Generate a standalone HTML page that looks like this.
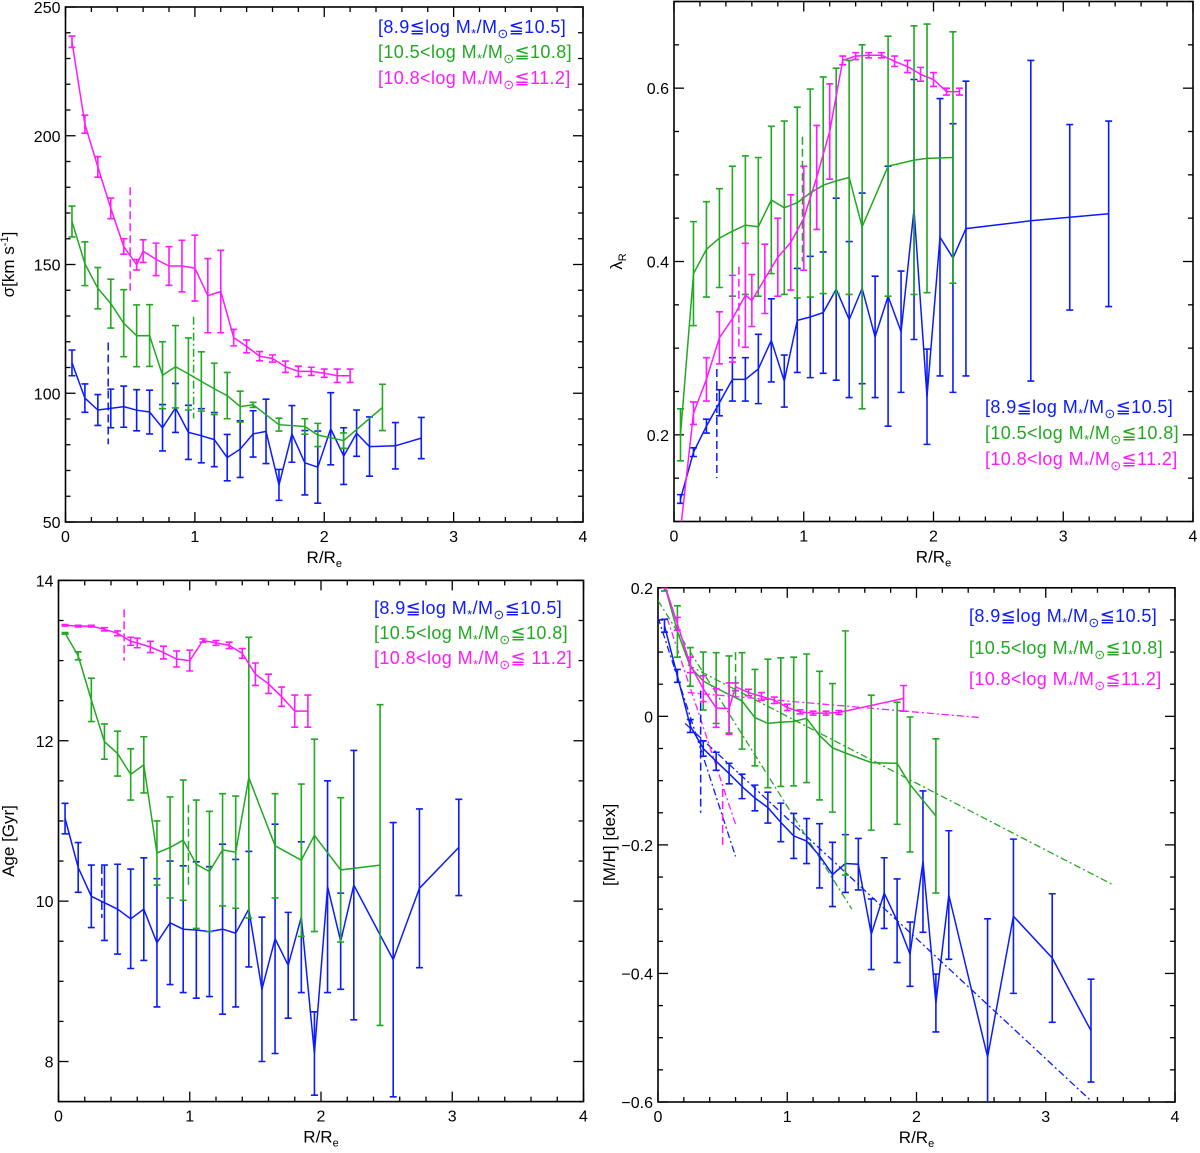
<!DOCTYPE html>
<html><head><meta charset="utf-8"><title>Radial profiles</title>
<style>
html,body{margin:0;padding:0;background:#fff;}
svg{display:block;}
text{font-family:"Liberation Sans","DejaVu Sans",sans-serif;}
</style></head>
<body>
<svg id="chart" width="1200" height="1153" viewBox="0 0 1200 1153" xmlns="http://www.w3.org/2000/svg"></svg>
<script>
// ===== Panel 1: sigma =====
const p1BlueR=[0.05,0.15,0.25,0.35,0.45,0.55,0.65,0.75,0.85,0.95,1.05,1.15,1.25,1.35,1.45,1.55,1.65,1.75,1.85,1.95,2.05,2.15,2.25,2.35,2.55,2.75];
const p1BlueV=[111.8,98.1,93.5,94.1,94.8,93.4,92.7,86.6,94.3,84.8,83.5,82,75,78.3,84.2,85.2,64.4,84.2,73,71.3,86.2,75.6,84.5,79.3,79.6,82.6];
const p1BlueE=[5,5.5,6,7.5,8,8,8.5,9,9.5,10.5,10.5,10.5,9,11,9,12.5,6,11,12.5,14,14,11,9,11.5,9,8];
const p1GreenR=[0.05,0.15,0.25,0.35,0.45,0.55,0.65,0.75,0.85,0.95,1.05,1.15,1.25,1.35,1.45,1.65,1.85,1.95,2.15,2.45];
const p1GreenV=[166.7,150.3,140.8,134.8,127.2,122.3,122.4,107,110.3,107.5,104.6,101.7,99.1,94.8,95.5,87.8,87.1,83.8,81.6,94.5];
const p1GreenE=[6,8.5,8,9.5,13,12,12,13,16,14,11.5,10,9,6,1,2.5,3,4.5,3,9];
const p1MagR=[0.05,0.15,0.25,0.35,0.45,0.55,0.6,0.7,0.8,0.9,1.0,1.1,1.2,1.3,1.4,1.5,1.6,1.7,1.8,1.9,2.0,2.1,2.2];
const p1MagV=[236.5,204.5,187.9,171.8,157.0,149.9,155.2,152.0,149.4,149.4,148.6,137.9,139.5,121.6,118.2,114.4,113.5,110.3,108.5,108.5,107.8,106.8,106.8];
const p1MagE=[2.2,3.5,4,4,3,2,4.4,6.3,7.5,10,12.8,14.4,16,3.2,2.5,1.8,1.4,2.2,2,1.6,1.6,2.6,2.6];
const p1Marks=[[0.33,119.7,80.2],[0.5,180,139.8],[0.99,129.7,90.2]];

// ===== Panel 2: lambda_R =====
const p2BlueR=[0.05,0.15,0.25,0.35,0.45,0.55,0.65,0.75,0.85,0.95,1.05,1.15,1.25,1.35,1.45,1.55,1.65,1.75,1.85,1.95,2.05,2.15,2.25,2.75,3.05,3.35];
const p2BlueV=[0.126,0.18,0.21,0.237,0.264,0.264,0.276,0.309,0.262,0.332,0.336,0.341,0.368,0.333,0.369,0.313,0.36,0.319,0.46,0.244,0.428,0.404,0.438,0.447,0.451,0.455];
const p2BlueE=[0.005,0.005,0.008,0.015,0.025,0.025,0.04,0.048,0.03,0.06,0.07,0.07,0.105,0.09,0.11,0.07,0.15,0.07,0.15,0.055,0.16,0.155,0.17,0.185,0.107,0.107];
const p2GreenR=[0.05,0.15,0.25,0.35,0.45,0.55,0.65,0.75,0.85,0.95,1.05,1.15,1.25,1.35,1.45,1.65,1.85,1.95,2.15];
const p2GreenV=[0.2,0.386,0.414,0.427,0.435,0.442,0.44,0.471,0.462,0.468,0.479,0.488,0.493,0.497,0.44,0.51,0.517,0.519,0.52];
const p2GreenE=[0.03,0.06,0.055,0.057,0.075,0.08,0.08,0.085,0.1,0.11,0.12,0.125,0.13,0.135,0.21,0.15,0.155,0.155,0.145];
const p2MagR=[0.05,0.15,0.25,0.35,0.45,0.55,0.6,0.7,0.8,0.9,1.0,1.1,1.2,1.3,1.4,1.5,1.6,1.7,1.8,1.9,2.0,2.1,2.2];
const p2MagV=[0.09,0.225,0.264,0.312,0.334,0.361,0.355,0.38,0.405,0.422,0.45,0.497,0.55,0.632,0.637,0.638,0.638,0.631,0.625,0.616,0.61,0.596,0.596];
const p2MagE=[0.005,0.013,0.025,0.03,0.05,0.06,0.03,0.04,0.045,0.055,0.06,0.06,0.055,0.005,0.004,0.003,0.003,0.006,0.007,0.008,0.008,0.004,0.004];
const p2Marks=[[0.33,0.276,0.15],[0.5,0.394,0.3],[0.99,0.544,0.4]];

// ===== Panel 3: Age =====
const p3BlueR=[0.05,0.15,0.25,0.35,0.45,0.55,0.65,0.75,0.85,0.95,1.05,1.15,1.25,1.35,1.45,1.55,1.65,1.75,1.85,1.95,2.05,2.15,2.25,2.55,2.75,3.05];
const p3BlueV=[11.03,10.42,10.06,9.98,9.9,9.78,9.9,9.48,9.73,9.65,9.64,9.62,9.65,9.6,9.9,8.9,9.53,9.2,9.8,8.1,10.18,9.5,10.2,9.27,10.16,10.67];
const p3BlueE=[0.19,0.31,0.39,0.47,0.56,0.62,0.64,0.8,0.77,0.79,0.85,0.81,1.06,0.92,0.72,0.9,1.43,0.66,0.94,0.52,1.32,0.6,1.68,1.71,0.99,0.6];
const p3GreenR=[0.05,0.15,0.25,0.35,0.45,0.55,0.65,0.75,0.85,0.95,1.05,1.15,1.25,1.35,1.45,1.65,1.85,1.95,2.15,2.45];
const p3GreenV=[13.34,13.06,12.51,11.99,11.84,11.58,11.7,10.6,10.67,10.76,10.46,10.37,10.64,10.61,11.54,10.69,10.51,10.82,10.39,10.45];
const p3GreenE=[0.01,0.05,0.27,0.22,0.28,0.32,0.35,0.4,0.63,0.75,0.8,0.75,0.7,0.7,1.75,0.65,0.95,1.2,0.9,2.0];
const p3MagR=[0.05,0.15,0.25,0.35,0.45,0.55,0.6,0.7,0.8,0.9,1.0,1.1,1.2,1.3,1.4,1.5,1.6,1.7,1.8,1.9];
const p3MagV=[13.44,13.43,13.43,13.39,13.34,13.24,13.22,13.17,13.1,13.02,13.0,13.25,13.22,13.19,13.09,12.83,12.71,12.55,12.37,12.37];
const p3MagE=[0.01,0.01,0.01,0.02,0.03,0.05,0.06,0.07,0.08,0.1,0.13,0.02,0.03,0.04,0.06,0.14,0.12,0.12,0.2,0.2];
const p3Marks=[[0.33,10.44,9.79],[0.5,13.64,13.0],[0.99,11.2,10.19]];

// ===== Panel 4: [M/H] =====
const p4BlueR=[0.05,0.15,0.25,0.35,0.45,0.55,0.65,0.75,0.85,0.95,1.05,1.15,1.25,1.35,1.45,1.55,1.65,1.75,1.85,1.95,2.05,2.15,2.25,2.55,2.75,3.05,3.35];
const p4BlueV=[0.141,0.063,-0.015,-0.05,-0.07,-0.089,-0.109,-0.127,-0.142,-0.165,-0.186,-0.194,-0.217,-0.246,-0.229,-0.23,-0.339,-0.275,-0.318,-0.37,-0.226,-0.446,-0.278,-0.53,-0.311,-0.376,-0.489];
const p4BlueE=[0.01,0.01,0.01,0.012,0.014,0.016,0.019,0.02,0.024,0.03,0.035,0.035,0.05,0.05,0.045,0.04,0.055,0.055,0.065,0.05,0.11,0.045,0.1,0.215,0.12,0.1,0.08];
const p4GreenR=[0.05,0.15,0.25,0.35,0.45,0.55,0.65,0.75,0.85,0.95,1.05,1.15,1.25,1.35,1.45,1.65,1.85,1.95,2.15];
const p4GreenV=[0.205,0.132,0.077,0.055,0.044,0.034,0.024,-0.002,-0.011,-0.009,-0.008,-0.003,-0.03,-0.049,-0.057,-0.072,-0.073,-0.106,-0.155];
const p4GreenE=[0.01,0.04,0.03,0.045,0.055,0.06,0.075,0.075,0.1,0.1,0.1,0.1,0.1,0.1,0.19,0.105,0.095,0.105,0.12];
const p4MagR=[0.05,0.15,0.25,0.35,0.45,0.55,0.6,0.7,0.8,0.9,1.0,1.1,1.2,1.3,1.4,1.9];
const p4MagV=[0.205,0.144,0.08,0.043,0.013,0.012,0.046,0.037,0.031,0.025,0.014,0.007,0.005,0.005,0.006,0.028];
const p4MagE=[0.005,0.01,0.012,0.02,0.03,0.04,0.006,0.005,0.006,0.005,0.005,0.003,0.003,0.003,0.003,0.02];
const p4Marks=[[0.33,0.04,-0.15],[0.5,-0.113,-0.2],[0.6,0.1,0.028]];
// fit lines: [r1, v1, r2, v2]
const p4BlueFits=[[0.0,0.154,0.6,-0.218],[0.21,-0.011,3.36,-0.6]];
const p4GreenFits=[[0.0,0.18,1.5,-0.3],[0.23,0.08,3.51,-0.261]];
const p4MagFits=[[0.07,0.153,0.6,-0.168],[0.23,0.037,2.5,-0.002]];

const BLUE="#0a1cff", GREEN="#22a822", MAG="#ff1aff";
const NS="http://www.w3.org/2000/svg";
const svg=document.getElementById('chart');
function el(tag,attrs,parent){const e=document.createElementNS(NS,tag);for(const k in attrs)e.setAttribute(k,attrs[k]);(parent||svg).appendChild(e);return e;}

let clipId=0;
function makePanel(key,L,R,T,B,ymin,ymax,yMajor,yMinor,yFmt,ylabelX,ylabelParts){
  const g=el('g',{});
  
  
  const xs=v=>L+(v/4)*(R-L);
  const ys=v=>B-(v-ymin)/(ymax-ymin)*(B-T);
  clipId++;
  const cp=el('clipPath',{id:'clip'+clipId},g);
  el('rect',{x:L,y:T,width:R-L,height:B-T},cp);
  const frame=el('rect',{x:L,y:T,width:R-L,height:B-T,fill:'none',stroke:'#000','stroke-width':1.6},g);
  
  
  for(let i=0;i<=20;i++){
    const v=i*0.2, x=xs(v), major=(i%5===0), len=major?10:5;
    el('line',{x1:x,y1:B,x2:x,y2:B-len,stroke:'#000','stroke-width':1.3},g);
    el('line',{x1:x,y1:T,x2:x,y2:T+len,stroke:'#000','stroke-width':1.3},g);
    if(major){
      const t=el('text',{x:x,y:B+20,'font-size':16,'text-anchor':'middle',fill:'#000'},g);
      t.textContent=String(i/5);
      
      
    }
  }
  const n=Math.round((ymax-ymin)/yMinor);
  for(let i=0;i<=n;i++){
    const v=ymin+i*yMinor, y=ys(v);
    const r=Math.abs(v/yMajor-Math.round(v/yMajor));
    const major=r<1e-6, len=major?10:5;
    el('line',{x1:L,y1:y,x2:L+len,y2:y,stroke:'#000','stroke-width':1.3},g);
    el('line',{x1:R,y1:y,x2:R-len,y2:y,stroke:'#000','stroke-width':1.3},g);
    if(major){
      const t=el('text',{x:L-5,y:y+6,'font-size':16,'text-anchor':'end',fill:'#000'},g);
      t.textContent=yFmt(v);
      
      
    }
  }
  const xt=el('text',{x:(L+R)/2,y:B+41,'font-size':17,'text-anchor':'middle',fill:'#000'},g);
  
  
  xt.appendChild(document.createTextNode('R/R'));
  const sb=el('tspan',{'font-size':11,dy:4},xt); sb.textContent='e';
  const cy=(T+B)/2;
  const yt=el('text',{x:ylabelX,y:cy,'font-size':17,'text-anchor':'middle',fill:'#000',transform:`rotate(-90 ${ylabelX} ${cy})`},g);
  
  
  ylabelParts.forEach(p=>{const s=el('tspan',p.a||{},yt);s.textContent=p.t;});
  const plot=el('g',{'clip-path':`url(#clip${clipId})`},g);
  return {g,plot,xs,ys};
}

function series(P,key,Rs,Vs,Es,color){
  const g=el('g',{},P.plot);
  
  
  const pts=Rs.map((r,i)=>P.xs(r).toFixed(1)+','+P.ys(Vs[i]).toFixed(1)).join(' ');
  const pl=el('polyline',{points:pts,fill:'none',stroke:color,'stroke-width':1.5},g);
  
  
  Rs.forEach((r,i)=>{
    const x=P.xs(r), y1=P.ys(Vs[i]+Es[i]), y2=P.ys(Vs[i]-Es[i]);
    const eb=el('path',{d:`M${x},${y1}V${y2}M${x-3.5},${y1}H${x+3.5}M${x-3.5},${y2}H${x+3.5}`,stroke:color,'stroke-width':1.6,fill:'none'},g);
    
    
  });
}
function marks(P,key,M,colors,dashes){
  M.forEach((m,i)=>{
    const l=el('line',{x1:P.xs(m[0]),x2:P.xs(m[0]),y1:P.ys(m[1]),y2:P.ys(m[2]),stroke:colors[i],'stroke-width':1.5,'stroke-dasharray':dashes[i]},P.plot);
    
    
  });
}
function fits(P,key,F,color){
  F.forEach(f=>{
    const l=el('line',{x1:P.xs(f[0]),y1:P.ys(f[1]),x2:P.xs(f[2]),y2:P.ys(f[3]),stroke:color,'stroke-width':1.3,'stroke-dasharray':'7 3 2 3'},P.plot);
    
    
  });
}
function legend(key,x,ys,texts){
  const cols=[BLUE,GREEN,MAG];
  const g=el('g',{});
  
  
  texts.forEach((tx,i)=>{
    const t=el('text',{x:x,y:ys[i],fill:cols[i],style:'font-size:18px;letter-spacing:0.4px;font-family:"Liberation Sans",sans-serif'},g);
    
    
    tx.forEach(p=>{const s=el('tspan',p.a||{},t);s.textContent=p.t;});
  });
}
function legText(a,op1,op2,c){
  return [{t:'['+a+op1+'log M'},{t:'*',a:{dy:5,style:'font-size:13px'}},{t:'/M',a:{dy:-5}},{t:'⊙',a:{dy:5,style:'font-size:13px'}},{t:op2+c+']',a:{dy:-5}}];
}
const LEG=[legText('8.9','≦','≦','10.5'),legText('10.5','<','≦','10.8'),legText('10.8','<','≦','11.2')];
const LEG3=[legText('8.9','≦','≦','10.5'),legText('10.5','<','≦','10.8'),legText('10.8','<','≦ ','11.2')];

const P1=makePanel('sigma',65.5,583,7,522,50,250,50,10,v=>String(Math.round(v)),14,
  [{t:'σ'},{t:'[km s'},{t:'-1',a:{dy:-6,'font-size':11}},{t:']',a:{dy:6}}]);
series(P1,'sigma-blue-series',p1BlueR,p1BlueV,p1BlueE,BLUE);
series(P1,'sigma-green-series',p1GreenR,p1GreenV,p1GreenE,GREEN);
series(P1,'sigma-magenta-series',p1MagR,p1MagV,p1MagE,MAG);
marks(P1,'sigma',p1Marks,[BLUE,MAG,GREEN],['8 4','8 4','8 3 2 3']);
legend('sigma',378,[33,58,84],LEG);

const P2=makePanel('lambda',674,1193,1.5,521.5,0.1,0.7,0.2,0.05,v=>v.toFixed(1),622,
  [{t:'λ'},{t:'R',a:{dy:4,'font-size':11}}]);
series(P2,'lambda-blue-series',p2BlueR,p2BlueV,p2BlueE,BLUE);
series(P2,'lambda-green-series',p2GreenR,p2GreenV,p2GreenE,GREEN);
series(P2,'lambda-magenta-series',p2MagR,p2MagV,p2MagE,MAG);
marks(P2,'lambda',p2Marks,[BLUE,MAG,GREEN],['8 4','8 4','8 4']);
legend('lambda',985,[413,439,465],LEG);

const P3=makePanel('age',58.5,583.5,580.4,1101.6,7.5,14,2,0.5,v=>String(Math.round(v)),14,
  [{t:'Age [Gyr]'}]);
series(P3,'age-blue-series',p3BlueR,p3BlueV,p3BlueE,BLUE);
series(P3,'age-green-series',p3GreenR,p3GreenV,p3GreenE,GREEN);
series(P3,'age-magenta-series',p3MagR,p3MagV,p3MagE,MAG);
marks(P3,'age',p3Marks,[BLUE,MAG,GREEN],['8 4','8 4','8 4']);
legend('age',374,[614,639,664],LEG3);

const P4=makePanel('metallicity',658,1175,587.8,1102,-0.6,0.2,0.2,0.05,v=>(Math.abs(v)<1e-9?'0':v.toFixed(1).replace('-','−')),615,
  [{t:'[M/H] [dex]'}]);
fits(P4,'metallicity-blue',p4BlueFits,BLUE);
fits(P4,'metallicity-green',p4GreenFits,GREEN);
fits(P4,'metallicity-magenta',p4MagFits,MAG);
series(P4,'metallicity-blue-series',p4BlueR,p4BlueV,p4BlueE,BLUE);
series(P4,'metallicity-green-series',p4GreenR,p4GreenV,p4GreenE,GREEN);
series(P4,'metallicity-magenta-series',p4MagR,p4MagV,p4MagE,MAG);
marks(P4,'metallicity',p4Marks,[BLUE,MAG,GREEN],['8 4','8 4','8 4']);
legend('metallicity',969,[622,654,685],LEG);
</script>
</body></html>
